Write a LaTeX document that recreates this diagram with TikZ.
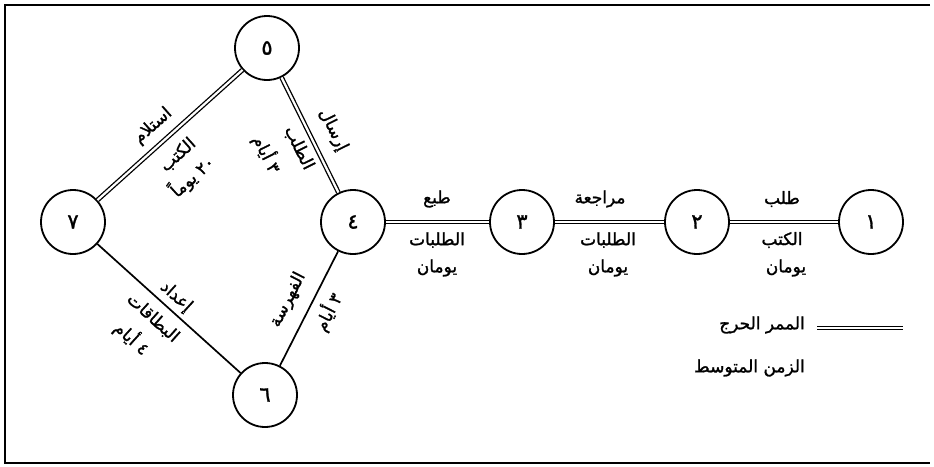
\documentclass[tikz,border=0pt]{standalone}
\usepackage{fontspec}
\newfontfamily\arabicfont[Script=Arabic,FakeBold=1.3]{DejaVu Sans}
\TeXXeTstate=1
\begin{document}
\begin{tikzpicture}[x=1pt,y=-1pt,
  ev/.style={circle, draw, line width=1.8pt, minimum size=64pt, inner sep=0pt,
    font=\arabicfont\fontsize{21}{21}\selectfont},
  crit/.style={double, double distance=2.2pt, line width=1.3pt},
  norm/.style={line width=1.7pt},
  lbl/.style={font=\arabicfont\fontsize{17}{17}\selectfont, inner sep=0pt},
  frame/.style={line width=1.5pt}]
\useasboundingbox (0,0) rectangle (934,466);
% frame
\draw[frame] (930,5) -- (5,5) -- (5,463) -- (930,463);
% events
\node[ev] (n1) at (871,222) {١};
\node[ev] (n2) at (697,222) {٢};
\node[ev] (n3) at (522,222) {٣};
\node[ev] (n4) at (353,222) {٤};
\node[ev] (n5) at (267,48) {٥};
\node[ev] (n6) at (265,395) {٦};
\node[ev] (n7) at (73,222) {٧};
% activities
\draw[crit] (n1) -- (n2);
\draw[crit] (n2) -- (n3);
\draw[crit] (n3) -- (n4);
\draw[crit] (n4) -- (n5);
\draw[crit] (n5) -- (n7);
\draw[norm] (n7) -- (n6);
\draw[norm] (n6) -- (n4);
% labels 1-2
\node[lbl] (a12) at (782,199) {\beginR طلب\endR};
\node[lbl] (b12) at (782,240) {\beginR الكتب\endR};
\node[lbl] (c12) at (786,268) {\beginR يومان\endR};
% labels 2-3
\node[lbl] (a23) at (600,199) {\beginR مراجعة\endR};
\node[lbl] (b23) at (608,240) {\beginR الطلبات\endR};
\node[lbl] (c23) at (608,268) {\beginR يومان\endR};
% labels 3-4
\node[lbl] (a34) at (437,199) {\beginR طبع\endR};
\node[lbl] (b34) at (437,240) {\beginR الطلبات\endR};
\node[lbl] (c34) at (437,268) {\beginR يومان\endR};
% labels 4-5
\node[lbl, rotate=-63.7] (a45) at (333,130) {\beginR إرسال\endR};
\node[lbl, rotate=-63.7] (b45) at (299,148) {\beginR الطلب\endR};
\node[lbl, rotate=-63.7] (c45) at (267,154) {\beginR ٣ أيام\endR};
% labels 5-7
\node[lbl, rotate=41.7] (a57) at (153,126) {\beginR استلام\endR};
\node[lbl, rotate=41.7] (b57) at (178,155) {\beginR الكتب\endR};
\node[lbl, rotate=41.7] (c57) at (192,176) {\beginR \beginL ٢٠\endL{} يوماً\endR};
% labels 7-6
\node[lbl, rotate=-42] (a76) at (176,297) {\beginR إعداد\endR};
\node[lbl, rotate=-42] (b76) at (153,318) {\beginR البطاقات\endR};
\node[lbl, rotate=-42] (c76) at (132,338) {\beginR ٤ أيام\endR};
% labels 6-4
\node[lbl, rotate=63] (a64) at (288,300) {\beginR الفهرسة\endR};
\node[lbl, rotate=63] (b64) at (328,312) {\beginR ٣ أيام\endR};
% legend
\coordinate (lgA) at (817,328);
\coordinate (lgB) at (903,328);
\draw[crit] (lgA) -- (lgB);
\node[lbl, anchor=east] (lg1) at (805,325) {\beginR الممر الحرج\endR};
\node[lbl, anchor=east] (lg2) at (805,368) {\beginR الزمن المتوسط\endR};
\end{tikzpicture}
\end{document}
